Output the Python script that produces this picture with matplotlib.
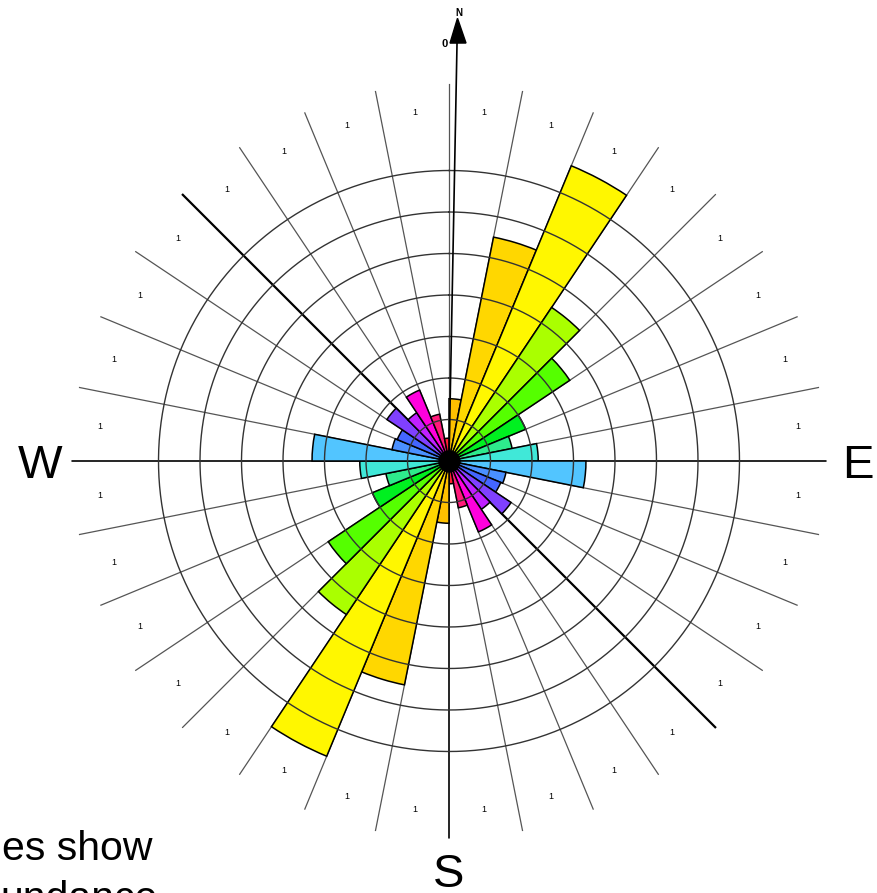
import numpy as np
import matplotlib
matplotlib.use("Agg")
import matplotlib.pyplot as plt

plt.rcParams['font.family'] = ['Liberation Sans', 'DejaVu Sans']

# rose diagram data: 16 bins of 11.25 deg (0-180), mirrored onto 180-360
bin_width_deg = 11.25
bin_values = [1.5, 5.5, 7.7, 4.45, 3.5, 2.0, 1.55, 2.15,
              3.3, 1.4, 1.35, 1.8, 1.4, 1.85, 1.15, 0.55]
bin_colors = ['#ffc000', '#ffd700', '#fff700', '#aaff00', '#55ff00', '#00f020',
              '#2eea8c', '#40e8d8', '#52c5ff', '#4a90ff', '#4466ff', '#8040ff',
              '#c020ff', '#ff00dd', '#ff1a7a', '#ff2030']
sector_labels = ['1'] * 32
ring_levels = [1, 2, 3, 4, 5, 6, 7]
compass = {'W': 270, 'E': 90, 'S': 180}
declination_deg = 1.1

r_max = 9.1
unit_px = 41.5
W, H = 877, 893
cx, cy = 449, 461

fig = plt.figure(figsize=(W / 100, H / 100), dpi=100)
R_px = r_max * unit_px
ax = fig.add_axes([(cx - R_px) / W, (H - cy - R_px) / H, 2 * R_px / W, 2 * R_px / H],
                  projection='polar')
ax.set_theta_zero_location('N')
ax.set_theta_direction(-1)
ax.set_rlim(0, r_max)
ax.grid(False)
ax.set_xticks([])
ax.set_yticks([])
ax.spines['polar'].set_visible(False)

# radial grid lines every 11.25 deg
n_sect = len(sector_labels)
edges = np.deg2rad(np.arange(n_sect) * bin_width_deg)
for i, t in enumerate(edges):
    deg = i * bin_width_deg
    if deg in (90, 180, 270):
        col, lw = 'black', 1.2
    elif deg in (135, 315):
        col, lw = 'black', 1.6
    else:
        col, lw = '#555555', 0.9
    ax.plot([t, t], [0, 9.08], color=col, lw=lw, zorder=1)

# bars
values = bin_values + bin_values
colors = bin_colors + bin_colors
centers = np.deg2rad(np.arange(n_sect) * bin_width_deg + bin_width_deg / 2)
ax.bar(centers, values, width=np.deg2rad(bin_width_deg), bottom=0,
       color=colors, edgecolor='black', linewidth=1.1, zorder=2)

# rings over the bars
tt = np.linspace(0, 2 * np.pi, 600)
for r in ring_levels:
    ax.plot(tt, np.full_like(tt, r), color='#333333', lw=1.0, zorder=3)

ax.plot(0, 0, 'o', color='black', markersize=15, zorder=4)

# sector counts
for t, lab in zip(centers, sector_labels):
    ax.text(t, 8.45, lab, fontsize=6.5, ha='center', va='center')

# compass letters
for lab, deg in compass.items():
    ax.text(np.deg2rad(deg), 9.85, lab, fontsize=34, ha='center', va='center_baseline')

# north arrow
dec = np.deg2rad(declination_deg)
ax.plot([dec, dec], [0, 10.1], color='black', lw=1.2, zorder=3, clip_on=False)
tri_t = np.deg2rad([0.14, 2.33, 1.1])
tri_r = [10.07, 10.08, 10.67]
ax.fill(tri_t, tri_r, color='black', zorder=4, clip_on=False)
ax.text(np.deg2rad(1.2), 10.8, 'N', fontsize=7, fontweight='bold', ha='center', va='center')
ax.text(np.deg2rad(-0.55), 10.05, '0', fontsize=8, fontweight='bold', ha='center', va='center')

# caption cut at the slide edge
fig.text(2 / W, (H - 860) / H, 'es show', fontsize=29.5, ha='left', va='baseline')
fig.text(0 / W, (H - 910) / H, 'undance', fontsize=29.5, ha='left', va='baseline')

fig.savefig('out.png', dpi=100, facecolor='white')
